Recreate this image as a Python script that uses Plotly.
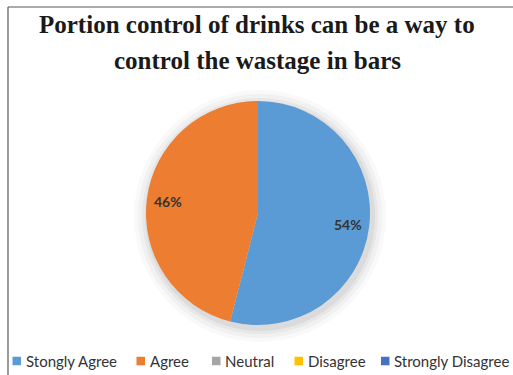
import math
import plotly.graph_objects as go

W, H = 513, 375

# Survey responses (percent)
labels = ["Stongly Agree", "Agree", "Neutral", "Disagree", "Strongly Disagree"]
values = [54, 46, 0, 0, 0]
colors = ["#5B9BD5", "#ED7D31", "#A5A5A5", "#FFC000", "#4472C4"]

title_lines = ["Portion control of drinks can be a way to",
               "control the wastage in bars"]

# pixel helpers (margins are zero, so paper == page)
def px(x):
    return x / W

def py(y):
    return 1 - y / H

cx, cy, R = 258, 213, 112

fig = go.Figure(go.Pie(
    labels=labels,
    values=values,
    marker=dict(colors=colors, line=dict(color="white", width=0)),
    sort=False,
    direction="clockwise",
    rotation=0,
    textinfo="none",
    showlegend=False,
    hoverinfo="label+percent",
    domain=dict(x=[px(cx - R), px(cx + R)], y=[py(cy + R), py(cy - R)]),
))

shapes = []
annotations = []

# soft shadow around the pie
for dr, a in [(14, 0.025), (10, 0.03), (6, 0.04), (3, 0.05)]:
    shapes.append(dict(type="circle", xref="paper", yref="paper", layer="below",
                       x0=px(cx - R - dr + 2), x1=px(cx + R + dr + 2),
                       y0=py(cy + R + dr + 3), y1=py(cy - R - dr + 3),
                       fillcolor=f"rgba(0,0,0,{a})", line=dict(width=0)))

# percentage labels placed near the outer part of each slice (clockwise from 12 o'clock)
total = sum(values)
start = 0.0
for v in values:
    if v > 0:
        mid = (start + v / 2) / total
        theta = 2 * math.pi * mid
        r = 0.81 * R
        lx = cx + r * math.sin(theta)
        lyy = cy - r * math.cos(theta)
        annotations.append(dict(text=f"<b>{round(100 * v / total)}%</b>",
                                xref="paper", yref="paper",
                                x=px(lx), y=py(lyy), xanchor="center", yanchor="middle",
                                showarrow=False,
                                font=dict(family="Lato", size=14, color="#333333")))
    start += v

# frame lines (left and top)
frame = "#595959"
shapes.append(dict(type="line", xref="paper", yref="paper",
                   x0=px(8), x1=px(8), y0=py(7), y1=py(376),
                   line=dict(color=frame, width=1.2)))
shapes.append(dict(type="line", xref="paper", yref="paper",
                   x0=px(8), x1=px(514), y0=py(7), y1=py(7),
                   line=dict(color=frame, width=1.2)))

# title
for text, ty in zip(title_lines, [24, 61]):
    annotations.append(dict(text=f"<b>{text}</b>", xref="paper", yref="paper",
                            x=px(257), y=py(ty), xanchor="center", yanchor="middle",
                            showarrow=False,
                            font=dict(family="Liberation Serif", size=25, color="#1a1a1a")))

# legend row
legend_sq_x = [12.5, 136.5, 212, 294.5, 381]
sq = 8.5
ly = 361
for lab, col, lx in zip(labels, colors, legend_sq_x):
    shapes.append(dict(type="rect", xref="paper", yref="paper",
                       x0=px(lx), x1=px(lx + sq), y0=py(ly + sq / 2), y1=py(ly - sq / 2),
                       fillcolor=col, line=dict(width=0)))
    annotations.append(dict(text=lab, xref="paper", yref="paper",
                            x=px(lx + sq + 2.5), y=py(ly), xanchor="left", yanchor="middle",
                            showarrow=False,
                            font=dict(family="Lato", size=15, color="#333333")))

fig.update_layout(
    width=W, height=H,
    margin=dict(l=0, r=0, t=0, b=0),
    paper_bgcolor="white",
    plot_bgcolor="white",
    shapes=shapes,
    annotations=annotations,
)

fig.write_html("out.html")
